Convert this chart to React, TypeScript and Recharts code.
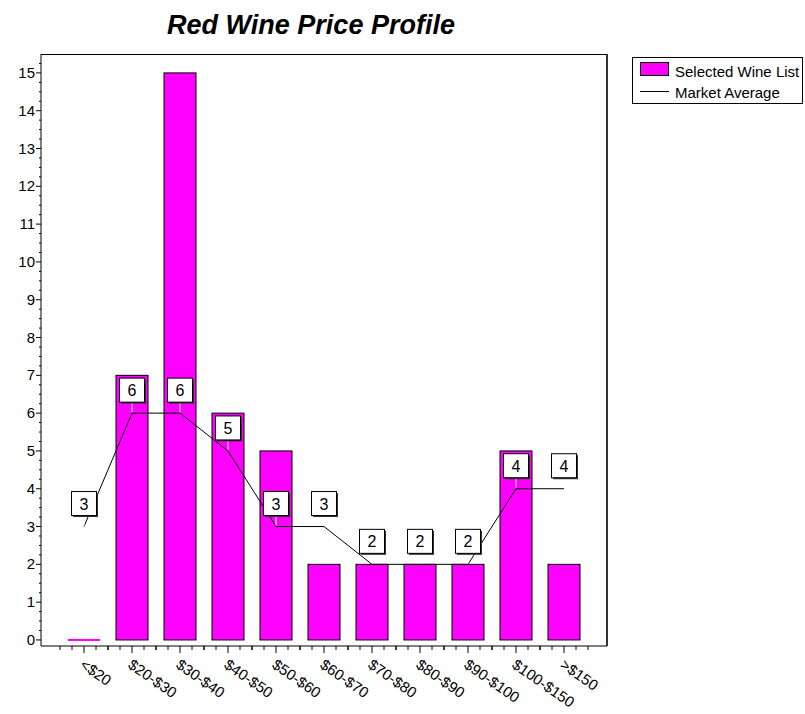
import React from "react";
import { Bar, CartesianGrid, ComposedChart, LabelList, Line, XAxis, YAxis } from "recharts";

const priceRanges = [
  "<$20",
  "$20-$30",
  "$30-$40",
  "$40-$50",
  "$50-$60",
  "$60-$70",
  "$70-$80",
  "$80-$90",
  "$90-$100",
  "$100-$150",
  ">$150",
];
const selectedWineList = [0, 7, 15, 6, 5, 2, 2, 2, 2, 5, 2];
const marketAverage = [3, 6, 6, 5, 3, 3, 2, 2, 2, 4, 4];
const countTicks = [0, 1, 2, 3, 4, 5, 6, 7, 8, 9, 10, 11, 12, 13, 14, 15];

const data = priceRanges.map((range, i) => ({
  range,
  selected: selectedWineList[i],
  market: marketAverage[i],
}));

// quarter-step minor ticks between the labelled counts
const yTicks = countTicks.flatMap((t) => [t, t + 0.25, t + 0.5, t + 0.75]).filter((t) => t <= 15.25);

const FONT = "'Liberation Sans', Arial, sans-serif";
const MAGENTA = "#ff00ff";

const CHART_W = 805;
const CHART_H = 714;
const PLOT_LEFT = 41;
const PLOT_RIGHT = 607;
const PLOT_TOP = 54;
const PLOT_BOTTOM = 646;
const X_PAD = 19;
const BAND = (PLOT_RIGHT - PLOT_LEFT - 2 * X_PAD) / priceRanges.length;

const CountTick = (props: any) => {
  const { x, y, payload } = props;
  const v = payload.value;
  if (!Number.isInteger(v)) {
    return <line x1={x - 2} y1={y} x2={x} y2={y} stroke="#000" />;
  }
  return (
    <g>
      <line x1={x - 5} y1={y} x2={x} y2={y} stroke="#000" />
      <text x={x - 6} y={y + 5} textAnchor="end" fontSize={15} fontFamily={FONT} fill="#000">
        {v}
      </text>
    </g>
  );
};

const RangeTick = (props: any) => {
  const { x, y, payload } = props;
  const minor = [-BAND / 2, -BAND / 4, BAND / 4, BAND / 2];
  const tx = x - 5;
  const ty = y + 21;
  return (
    <g>
      <line x1={x} y1={y} x2={x} y2={y + 7} stroke="#000" />
      {minor.map((d) => (
        <line key={d} x1={x + d} y1={y} x2={x + d} y2={y + 4} stroke="#000" />
      ))}
      <text
        x={tx}
        y={ty}
        transform={`rotate(35, ${tx}, ${ty})`}
        textAnchor="start"
        fontSize={15}
        fontFamily={FONT}
        fill="#000"
      >
        {payload.value}
      </text>
    </g>
  );
};

// zero-count bars still show as a flat magenta stroke on the baseline
const WineBar = (props: any) => {
  const { x, y, width, height } = props;
  if (!height) {
    return <line x1={x} y1={y} x2={x + width} y2={y} stroke={MAGENTA} strokeWidth={2} />;
  }
  return <rect x={x} y={y} width={width} height={height} fill={MAGENTA} stroke="#000" strokeWidth={1} />;
};

const AverageLabel = (props: any) => {
  const { x, y, value } = props;
  const bw = 25;
  const bh = 24;
  const gap = 11;
  const top = y - gap - bh;
  return (
    <g>
      <line x1={x} y1={y - 1} x2={x} y2={y - gap} stroke="#fff" />
      <rect x={x - bw / 2 + 1.5} y={top + 1.5} width={bw} height={bh} fill="#333" />
      <rect x={x - bw / 2} y={top} width={bw} height={bh} fill="#fff" stroke="#000" />
      <text x={x} y={top + bh / 2 + 6} textAnchor="middle" fontSize={16} fontFamily={FONT} fill="#000">
        {value}
      </text>
    </g>
  );
};

export default function App() {
  return (
    <div
      style={{
        position: "absolute",
        left: 0,
        top: 0,
        width: CHART_W,
        height: CHART_H,
        background: "#fff",
        fontFamily: FONT,
      }}
    >
      <div
        style={{
          position: "absolute",
          left: 0,
          width: 622,
          top: 10,
          textAlign: "center",
          fontSize: 27,
          fontWeight: "bold",
          fontStyle: "italic",
          color: "#000",
        }}
      >
        Red Wine Price Profile
      </div>

      <ComposedChart
        width={CHART_W}
        height={CHART_H}
        data={data}
        margin={{ top: PLOT_TOP, right: CHART_W - PLOT_RIGHT, bottom: 0, left: 0 }}
      >
        {/* top and right edges of the plot frame */}
        <CartesianGrid vertical={false} horizontalPoints={[PLOT_TOP + 0.5]} stroke="#000" strokeDasharray="" />
        <CartesianGrid horizontal={false} verticalPoints={[PLOT_RIGHT]} stroke="#333" strokeWidth={2} strokeDasharray="" />
        <XAxis
          dataKey="range"
          height={CHART_H - PLOT_BOTTOM}
          padding={{ left: X_PAD, right: X_PAD }}
          interval={0}
          tickSize={0}
          tickMargin={0}
          tick={<RangeTick />}
          axisLine={{ stroke: "#000" }}
        />
        <YAxis
          width={PLOT_LEFT}
          type="number"
          domain={[-0.16, 15.5]}
          allowDataOverflow
          ticks={yTicks}
          interval={0}
          tickSize={0}
          tickMargin={0}
          tick={<CountTick />}
          axisLine={{ stroke: "#000" }}
        />
        <Bar dataKey="selected" barSize={32} shape={<WineBar />} isAnimationActive={false} />
        <Line
          dataKey="market"
          type="linear"
          stroke="#000"
          strokeWidth={1}
          dot={false}
          activeDot={false}
          isAnimationActive={false}
        >
          <LabelList dataKey="market" content={<AverageLabel />} />
        </Line>
      </ComposedChart>

      <div
        style={{
          position: "absolute",
          left: 632,
          top: 57,
          width: 171,
          height: 47,
          border: "1px solid #000",
          boxSizing: "border-box",
          fontSize: 15,
          color: "#000",
        }}
      >
        <div style={{ position: "absolute", left: 7, top: 4, width: 29, height: 14, background: MAGENTA, border: "1px solid #000", boxSizing: "border-box" }} />
        <div style={{ position: "absolute", left: 42, top: 5, whiteSpace: "nowrap" }}>Selected Wine List</div>
        <div style={{ position: "absolute", left: 7, top: 33, width: 29, height: 1, background: "#000" }} />
        <div style={{ position: "absolute", left: 42, top: 26, whiteSpace: "nowrap" }}>Market Average</div>
      </div>
    </div>
  );
}
